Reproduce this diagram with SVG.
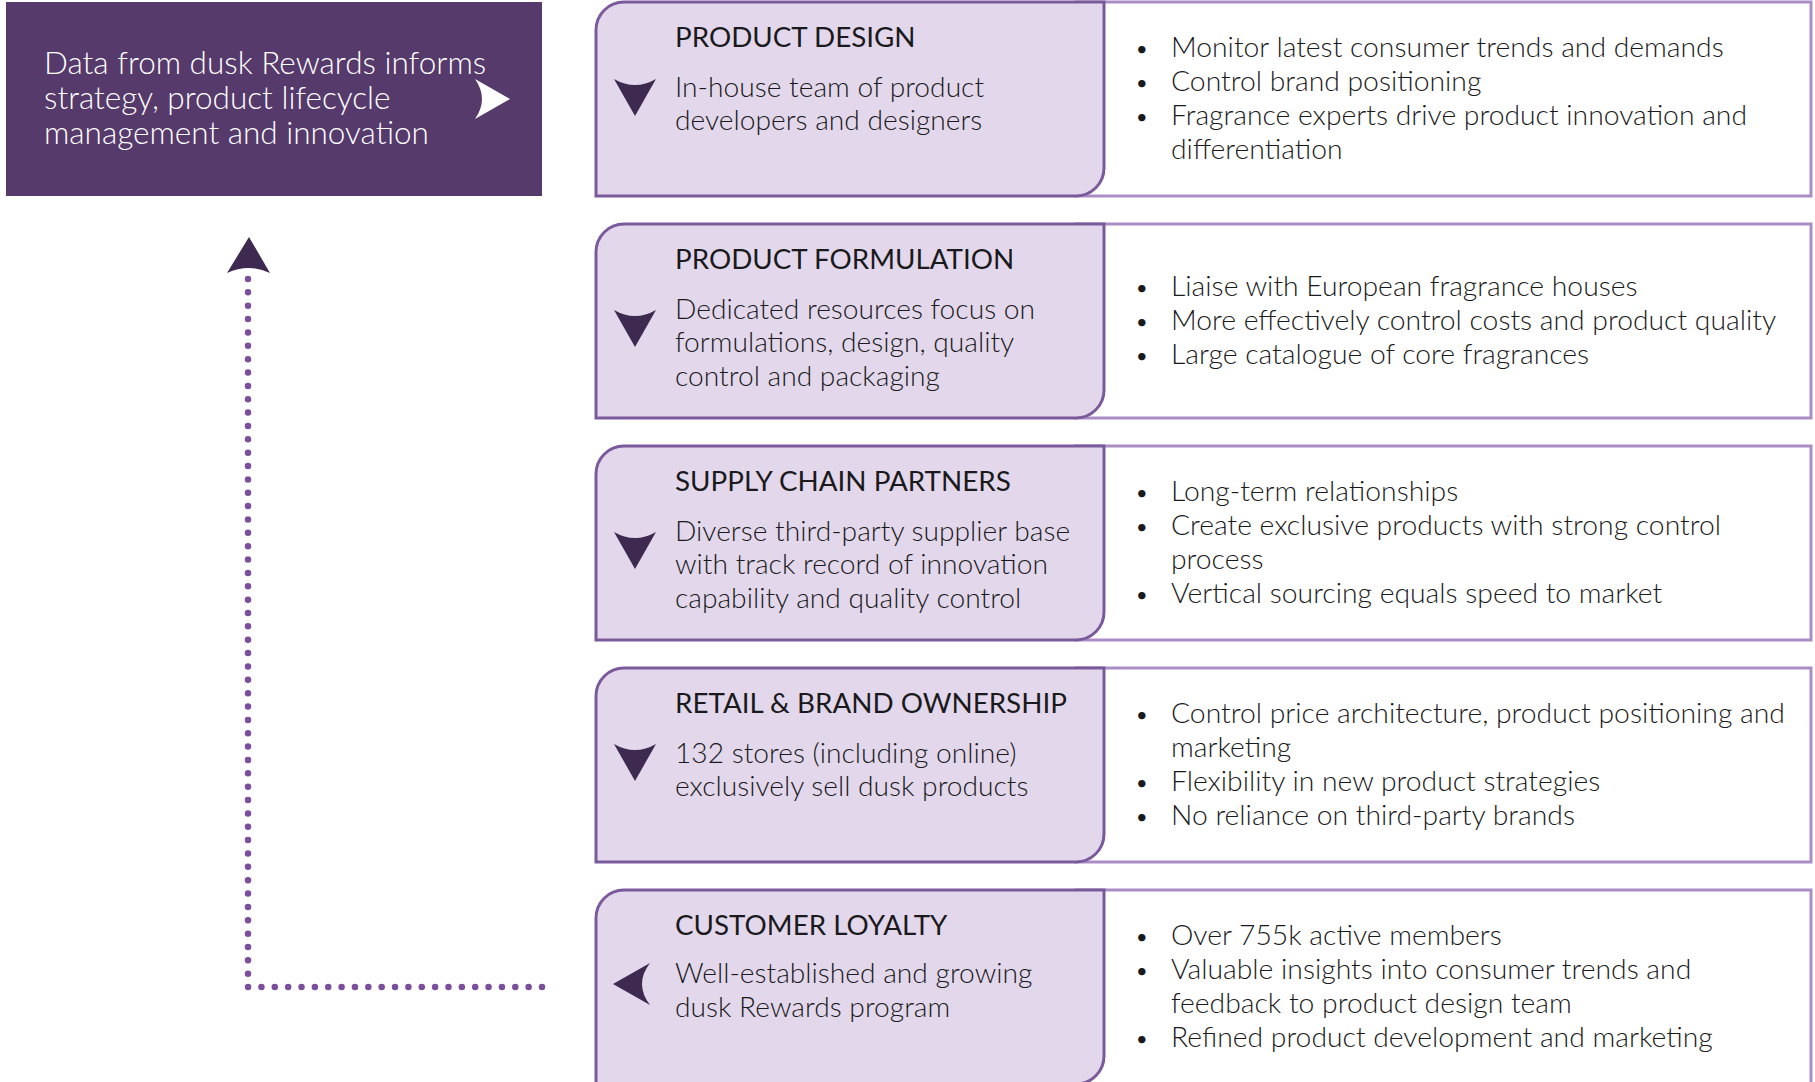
<svg xmlns="http://www.w3.org/2000/svg" width="1815" height="1082" viewBox="0 0 1815 1082">
  <style>
    text { font-family: Lato, "Liberation Sans", Arial, sans-serif; font-weight: 300; fill: #1a1a1c; }
    .lead { font-size: 31.5px; fill: #ffffff; }
    .title { font-size: 27.8px; font-weight: 400; }
    .body { font-size: 28.2px; }
    .pt { font-size: 28.3px; }
    .bul { font-size: 20px; font-weight: 400; }
    .card { fill: #e3d8eb; stroke: #7b5a9c; stroke-width: 3; }
    .panel { fill: #ffffff; stroke: #ab8dc6; stroke-width: 3; }
    .mark { fill: #3e2a50; }
    .dots { fill: none; stroke: #7b4f9b; stroke-width: 6.5; stroke-linecap: round; stroke-dasharray: 0 13.36; }
  </style>
  <defs>
    <!-- lilac card: rounded top-left and bottom-right corners -->
    <path id="cardShape" d="M596,30 A28,28 0 0 1 624,2 H1104 V168 A28,28 0 0 1 1076,196 H596 Z"/>
    <!-- downward arrowhead with concave top edge -->
    <path id="downMark" d="M614,0 Q635,12 656,0 L635,37 Z"/>
  </defs>

  <rect width="1815" height="1082" fill="#ffffff"/>

  <!-- feedback loop: dotted path from the loyalty row back up to the insight box -->
  <g id="connectors">
    <path class="dots" d="M542,987 H248 V279"/>
    <path class="mark" d="M227,273 L249,237 L270,273 Q249,263 227,273 Z"/>
  </g>

  <g id="insight">
    <rect x="6" y="2" width="536" height="194" fill="#553a6b"/>
    <text class="lead" x="44" y="74">Data from dusk Rewards informs</text>
    <text class="lead" x="44" y="109">strategy, product lifecycle</text>
    <text class="lead" x="44" y="144">management and innovation</text>
    <path d="M475,79 L510,99 L475,119 Q489,99 475,79 Z" fill="#ffffff"/>
  </g>

  <!-- row 1 -->
  <g id="product-design">
    <rect class="panel" x="1076" y="2" width="735" height="194"/>
    <use href="#cardShape" class="card"/>
    <use href="#downMark" class="mark" y="79"/>
    <text class="title" x="675" y="47">PRODUCT DESIGN</text>
    <text class="body" x="675" y="97">In-house team of product</text>
    <text class="body" x="675" y="130">developers and designers</text>
    <text class="bul" x="1136" y="56">•</text>
    <text class="pt" x="1171" y="57">Monitor latest consumer trends and demands</text>
    <text class="bul" x="1136" y="90">•</text>
    <text class="pt" x="1171" y="91">Control brand positioning</text>
    <text class="bul" x="1136" y="124">•</text>
    <text class="pt" x="1171" y="125">Fragrance experts drive product innovation and</text>
    <text class="pt" x="1171" y="159">differentiation</text>
  </g>

  <!-- row 2 -->
  <g id="product-formulation" transform="translate(0,222)">
    <rect class="panel" x="1076" y="2" width="735" height="194"/>
    <use href="#cardShape" class="card"/>
    <use href="#downMark" class="mark" y="88"/>
    <text class="title" x="675" y="47">PRODUCT FORMULATION</text>
    <text class="body" x="675" y="97">Dedicated resources focus on</text>
    <text class="body" x="675" y="130">formulations, design, quality</text>
    <text class="body" x="675" y="164">control and packaging</text>
    <text class="bul" x="1136" y="73">•</text>
    <text class="pt" x="1171" y="74">Liaise with European fragrance houses</text>
    <text class="bul" x="1136" y="107">•</text>
    <text class="pt" x="1171" y="108">More effectively control costs and product quality</text>
    <text class="bul" x="1136" y="141">•</text>
    <text class="pt" x="1171" y="142">Large catalogue of core fragrances</text>
  </g>

  <!-- row 3 -->
  <g id="supply-chain-partners" transform="translate(0,444)">
    <rect class="panel" x="1076" y="2" width="735" height="194"/>
    <use href="#cardShape" class="card"/>
    <use href="#downMark" class="mark" y="88"/>
    <text class="title" x="675" y="47">SUPPLY CHAIN PARTNERS</text>
    <text class="body" x="675" y="97">Diverse third-party supplier base</text>
    <text class="body" x="675" y="130">with track record of innovation</text>
    <text class="body" x="675" y="164">capability and quality control</text>
    <text class="bul" x="1136" y="56">•</text>
    <text class="pt" x="1171" y="57">Long-term relationships</text>
    <text class="bul" x="1136" y="90">•</text>
    <text class="pt" x="1171" y="91">Create exclusive products with strong control</text>
    <text class="pt" x="1171" y="125">process</text>
    <text class="bul" x="1136" y="158">•</text>
    <text class="pt" x="1171" y="159">Vertical sourcing equals speed to market</text>
  </g>

  <!-- row 4 -->
  <g id="retail-brand-ownership" transform="translate(0,666)">
    <rect class="panel" x="1076" y="2" width="735" height="194"/>
    <use href="#cardShape" class="card"/>
    <use href="#downMark" class="mark" y="78"/>
    <text class="title" x="675" y="47">RETAIL &amp; BRAND OWNERSHIP</text>
    <text class="body" x="675" y="97">132 stores (including online)</text>
    <text class="body" x="675" y="130">exclusively sell dusk products</text>
    <text class="bul" x="1136" y="56">•</text>
    <text class="pt" x="1171" y="57">Control price architecture, product positioning and</text>
    <text class="pt" x="1171" y="91">marketing</text>
    <text class="bul" x="1136" y="124">•</text>
    <text class="pt" x="1171" y="125">Flexibility in new product strategies</text>
    <text class="bul" x="1136" y="158">•</text>
    <text class="pt" x="1171" y="159">No reliance on third-party brands</text>
  </g>

  <!-- row 5 -->
  <g id="customer-loyalty" transform="translate(0,888)">
    <rect class="panel" x="1076" y="2" width="735" height="194"/>
    <use href="#cardShape" class="card"/>
    <path class="mark" d="M650,75 L613,96 L650,117 Q634,96 650,75 Z"/>
    <text class="title" x="675" y="47">CUSTOMER LOYALTY</text>
    <text class="body" x="675" y="95">Well-established and growing</text>
    <text class="body" x="675" y="129">dusk Rewards program</text>
    <text class="bul" x="1136" y="56">•</text>
    <text class="pt" x="1171" y="57">Over 755k active members</text>
    <text class="bul" x="1136" y="90">•</text>
    <text class="pt" x="1171" y="91">Valuable insights into consumer trends and</text>
    <text class="pt" x="1171" y="125">feedback to product design team</text>
    <text class="bul" x="1136" y="158">•</text>
    <text class="pt" x="1171" y="159">Refined product development and marketing</text>
  </g>
</svg>
